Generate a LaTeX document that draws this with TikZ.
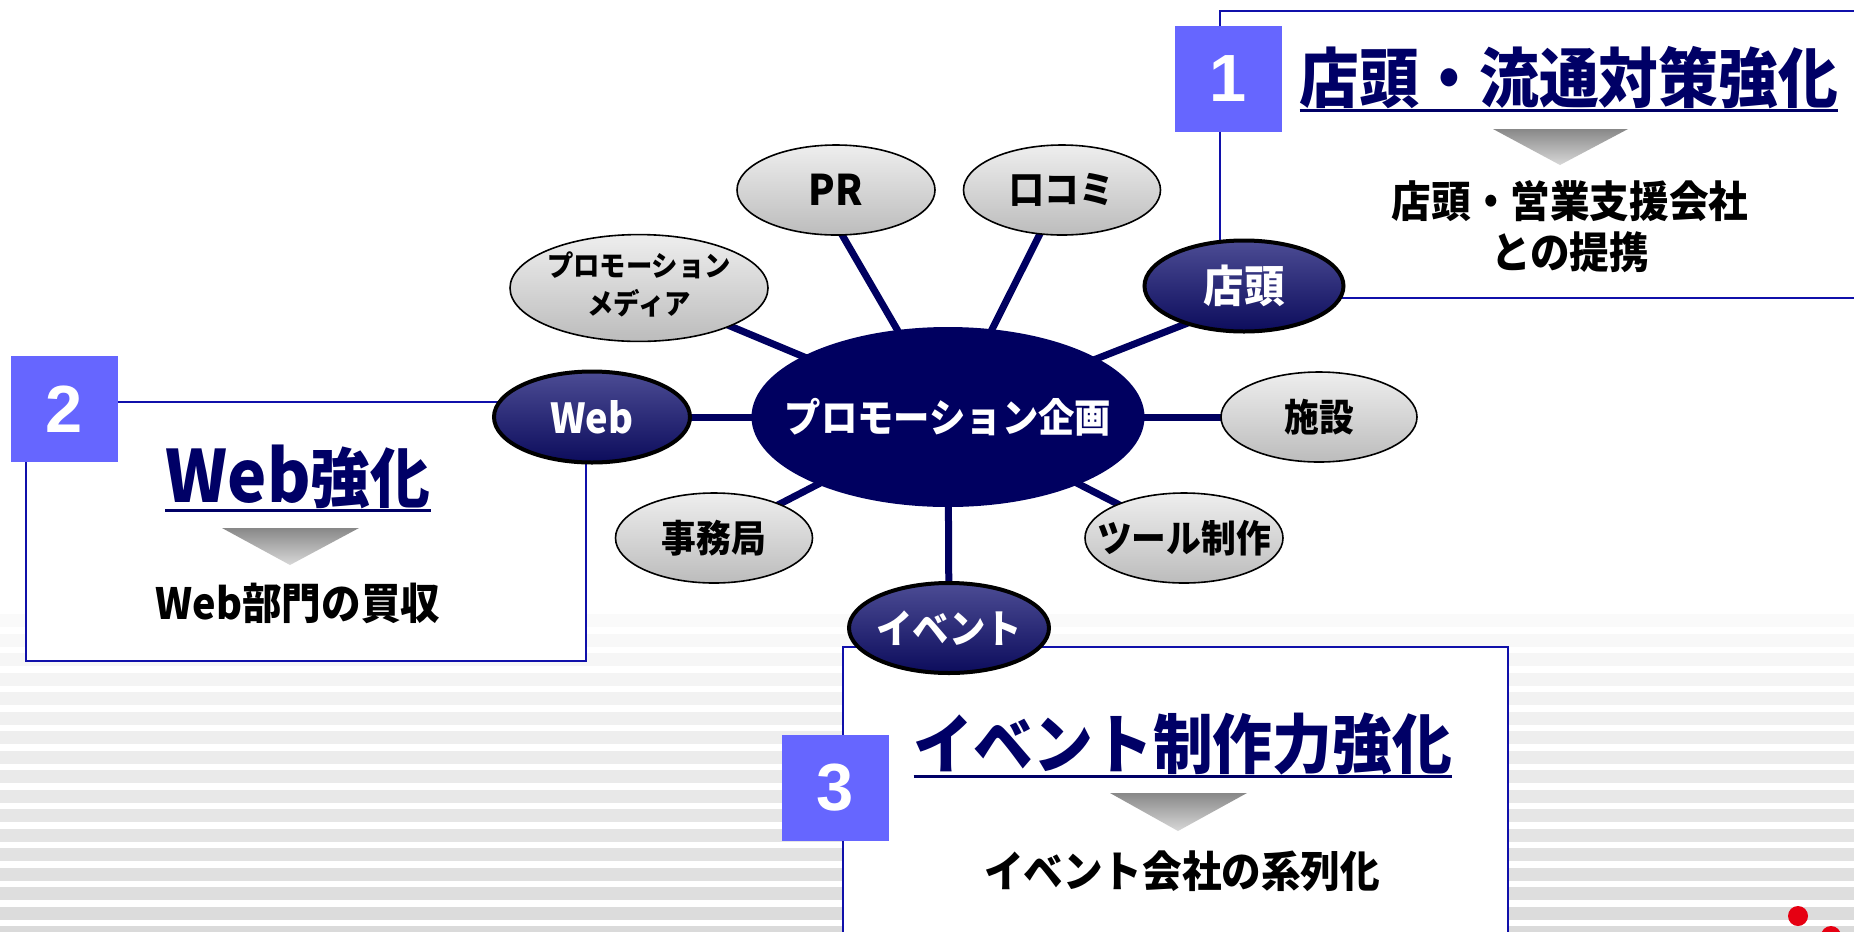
\documentclass[tikz,border=0pt]{standalone}
\usepackage{fontspec}
\setmainfont{Liberation Sans}
\newfontfamily\jpb{Noto Sans CJK JP Black}[FakeStretch=0.92]
\newfontfamily\numf{Liberation Sans}[BoldFont={Liberation Sans Bold}]
\usetikzlibrary{shapes.geometric,calc}
\pgfdeclarelayer{back}
\pgfdeclarelayer{lines}
\pgfsetlayers{back,lines,main}
\def\pxu{0.02cm}
\newcommand\ztxt[1]{\makebox[0pt]{#1}}
\definecolor{navy}{RGB}{0,0,96}
\definecolor{boxblue}{RGB}{16,16,170}
\definecolor{sqblue}{RGB}{102,102,255}
\definecolor{titlecol}{RGB}{0,0,102}
\definecolor{gtop}{RGB}{238,238,238}
\definecolor{gbot}{RGB}{188,188,188}
\definecolor{dtop}{RGB}{76,76,148}
\definecolor{dbot}{RGB}{12,12,92}
\definecolor{tritop}{RGB}{136,136,136}
\definecolor{tribot}{RGB}{216,216,216}
\definecolor{dotred}{RGB}{230,0,18}
\begin{document}
\begin{tikzpicture}[x=0.02cm,y=-0.02cm,
  boxline/.style={draw=boxblue,line width=2.2*\pxu,fill=white},
  numsq/.style={fill=sqblue,minimum width=107*\pxu,minimum height=106*\pxu,inner sep=0,text=white,font=\numf\bfseries\fontsize{38}{40}\selectfont},
  title/.style={inner sep=0,text=titlecol,font=\jpb\fontsize{37}{40}\selectfont},
  uline/.style={draw=titlecol,line width=3*\pxu},
  sub/.style={inner sep=0,text=black,font=\jpb\fontsize{24.5}{28}\selectfont},
  tri/.style={top color=tritop,bottom color=tribot},
  gell/.style={ellipse,draw=black,line width=1.6*\pxu,top color=gtop,bottom color=gbot,inner sep=0,text=black,font=\jpb\fontsize{21.5}{24}\selectfont},
  dell/.style={ellipse,draw=black,line width=4*\pxu,top color=dtop,bottom color=dbot,inner sep=0,text=white,font=\jpb\fontsize{23.5}{26}\selectfont},
  cell/.style={ellipse,fill=navy,inner sep=0,text=white,font=\jpb\fontsize{22.5}{24}\selectfont},
  spoke/.style={draw=navy,line width=7*\pxu},
  reddot/.style={fill=dotred}
]
\useasboundingbox (0,0) rectangle (1854,931);
\begin{pgfonlayer}{back}
\fill[white] (0,0) rectangle (1854,931);
\foreach \k in {0,...,16}{
  \pgfmathtruncatemacro\g{250-2*\k}
  \definecolor{stc}{RGB}{\g,\g,\g}
  \fill[stc] (0,{614+19.5*\k}) rectangle (1854,{627+19.5*\k});
}
\end{pgfonlayer}

% boxes
\draw[boxline] (1220,11) rectangle (1880,298);
\draw[boxline] (26,402) rectangle (586,661);
\draw[boxline] (843,647) rectangle (1508,960);

% number squares
\node[numsq] (n1) at (1228,79) {1};
\node[numsq] (n2) at (64,409) {2};
\node[numsq] (n3) at (835,788) {3};

% titles
\node[title] (t1) at (1569,78) {店頭・流通対策強化};
\draw[uline] ([yshift=-1*\pxu]t1.south west) -- ([yshift=-1*\pxu]t1.south east);
\node[title] (t2) at (298,477) {{\fontsize{41}{42}\selectfont Web}強化};
\draw[uline] ([yshift=-1*\pxu]t2.south west) -- ([yshift=-1*\pxu]t2.south east);
\node[title] (t3) at (1183,744) {イベント制作力強化};
\draw[uline] ([yshift=-1*\pxu]t3.south west) -- ([yshift=-1*\pxu]t3.south east);

% triangles
\shade[tri] (1493,129) -- (1628,129) -- (1560,165) -- cycle;
\shade[tri] (222,528) -- (359,528) -- (290,565) -- cycle;
\shade[tri] (1110,793) -- (1247,793) -- (1178,831) -- cycle;

% subtitles
\node[sub] (s1a) at (1570,201) {店頭・営業支援会社};
\node[sub] (s1b) at (1570,252) {との提携};
\node[sub] (s2) at (298,603) {Web部門の買収};
\node[sub] (s3) at (1182,871) {イベント会社の系列化};

% ellipses
\node[cell,minimum width=393*\pxu,minimum height=180*\pxu] (c) at (948,417) {\ztxt{プロモーション企画}};
\node[gell,minimum width=198*\pxu,minimum height=90*\pxu,font=\jpb\fontsize{24}{26}\selectfont] (pr) at (836,190) {\ztxt{PR}};
\node[gell,minimum width=197*\pxu,minimum height=90*\pxu] (kc) at (1062,190) {\ztxt{口コミ}};
\node[gell,minimum width=258*\pxu,minimum height=98*\pxu,font=\jpb\fontsize{16.3}{21.5}\selectfont] (md) at (639,288) {\ztxt{\begin{tabular}{@{}c@{}}プロモーション\\メディア\end{tabular}}};
\node[dell,minimum width=199*\pxu,minimum height=91*\pxu,font=\jpb\fontsize{25}{27}\selectfont] (tt) at (1244,286) {\ztxt{店頭}};
\node[dell,minimum width=196*\pxu,minimum height=91*\pxu] (wb) at (592,417) {\ztxt{Web}};
\node[gell,minimum width=196*\pxu,minimum height=90*\pxu] (ss) at (1319,417) {\ztxt{施設}};
\node[gell,minimum width=197*\pxu,minimum height=90*\pxu] (jm) at (714,538) {\ztxt{事務局}};
\node[gell,minimum width=198*\pxu,minimum height=90*\pxu] (tl) at (1184,538) {\ztxt{ツール制作}};
\node[dell,minimum width=200*\pxu,minimum height=90*\pxu,font=\jpb\fontsize{22.5}{24}\selectfont] (ev) at (949,628) {\ztxt{イベント}};

\begin{pgfonlayer}{lines}
\draw[spoke] (c.center) -- ([xshift=-20*\pxu]pr.center);
\draw[spoke] (c.center) -- (kc.center);
\draw[spoke] (c.center) -- (md.center);
\draw[spoke] (c.center) -- ([yshift=-15*\pxu]tt.center);
\draw[spoke] (c.center) -- (wb.center);
\draw[spoke] (c.center) -- (ss.center);
\draw[spoke] (c.center) -- (jm.center);
\draw[spoke] (c.center) -- (tl.center);
\draw[spoke] (c.center) -- (ev.center);
\end{pgfonlayer}

% red dots
\fill[reddot] (1798,916) circle[radius=0.2cm];
\fill[reddot] (1831,936) circle[radius=0.2cm];
\end{tikzpicture}
\end{document}
